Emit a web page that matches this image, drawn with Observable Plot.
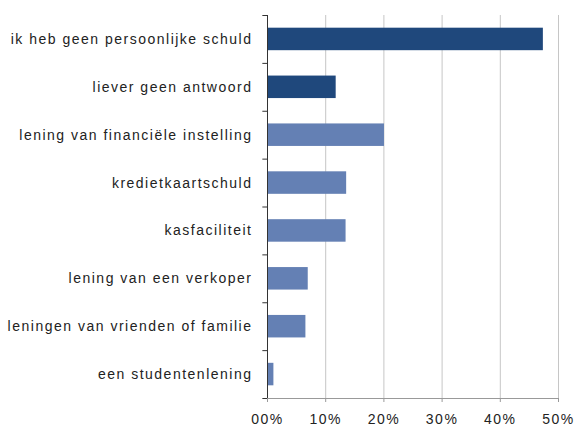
<!DOCTYPE html>
<html><head><meta charset="utf-8">
<script src="https://cdn.jsdelivr.net/npm/d3@7"></script>
<script src="https://cdn.jsdelivr.net/npm/@observablehq/plot@0.6"></script>
<style>body{margin:0;background:#fff}</style>
</head><body><div id="chart"></div>
<script>
const categories = [
  "ik heb geen persoonlijke schuld",
  "liever geen antwoord",
  "lening van financiële instelling",
  "kredietkaartschuld",
  "kasfaciliteit",
  "lening van een verkoper",
  "leningen van vrienden of familie",
  "een studentenlening"
];
const values = [47.4, 11.8, 20.1, 13.6, 13.5, 7.0, 6.6, 1.1];
const groups = ["overall", "overall", "type", "type", "type", "type", "type", "type"];
const xTicks = [0, 10, 20, 30, 40, 50];
const xTickLabels = ["00%", "10%", "20%", "30%", "40%", "50%"];

const data = categories.map((c, i) => ({category: c, index: i, value: values[i], group: groups[i]}));
const n = categories.length;

const chart = Plot.plot({
  width: 578, height: 426,
  marginTop: 15, marginBottom: 28, marginLeft: 267, marginRight: 20,
  style: {fontFamily: "'Liberation Sans', Arial, sans-serif", fontSize: "14px", color: "#222", background: "#fff", letterSpacing: "1.5px"},
  x: {domain: [0, 50]},
  y: {domain: [0, n], reverse: true},
  color: {domain: ["overall", "type"], range: ["#1F487C", "#6480B4"]},
  marks: [
    Plot.ruleX(xTicks.slice(1), {stroke: "#c6c6c6"}),
    Plot.rect(data, {x1: 0, x2: "value", y1: d => d.index + 0.265, y2: d => d.index + 0.735, fill: "group"}),
    Plot.ruleY([n], {x1: 0, x2: 50, stroke: "#999"}),
    Plot.ruleX([0], {stroke: "#333"}),
    Plot.ruleY(d3.range(n + 1), {x1: -0.8, x2: 0, stroke: "#333"}),
    Plot.axisY(categories.map((c, i) => i + 0.5), {tickFormat: d => categories[Math.floor(d)], tickSize: 0, tickPadding: 15, label: null}),
    Plot.axisX(xTicks, {tickFormat: d => xTickLabels[xTicks.indexOf(d)], tickSize: 4, tickPadding: 12, label: null, stroke: "#999"})
  ]
});
document.getElementById("chart").append(chart);
</script>
</body></html>
